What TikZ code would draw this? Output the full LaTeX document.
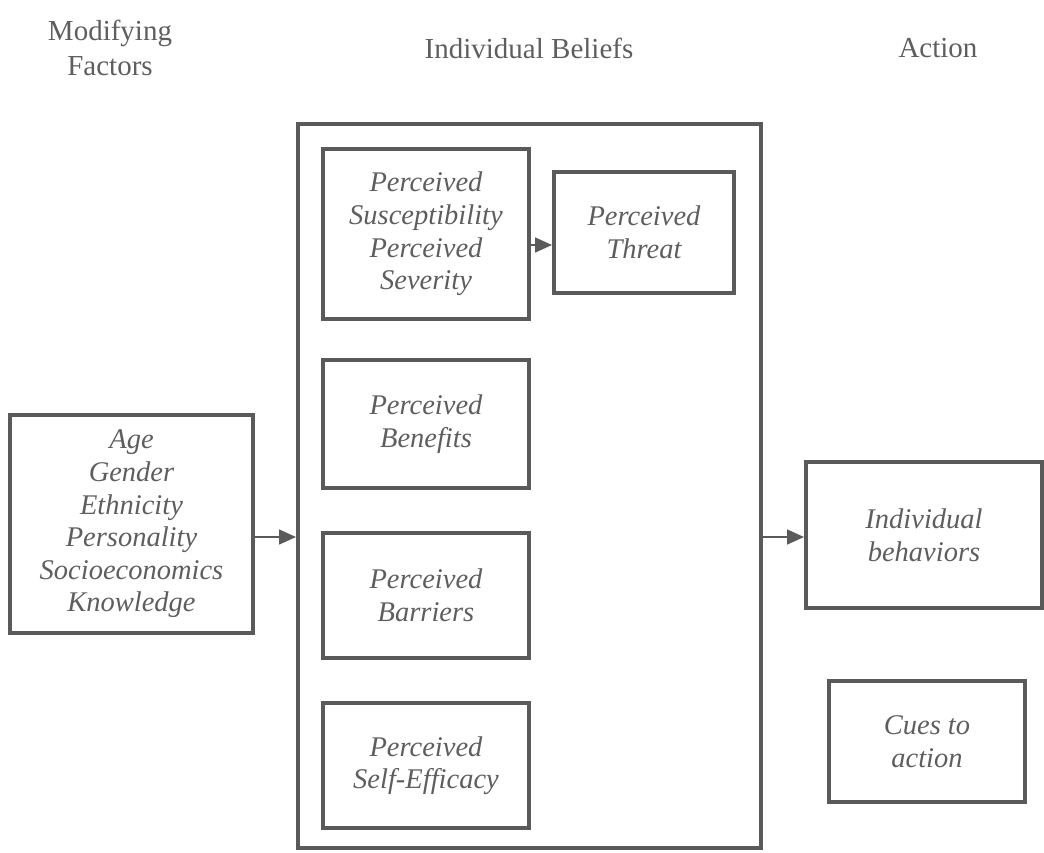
\documentclass[tikz,border=0pt]{standalone}
\usepackage{fontspec}
\setmainfont{Liberation Serif}
\usetikzlibrary{arrows.meta}
\definecolor{linegray}{HTML}{5A5A5A}
\definecolor{textgray}{HTML}{5E5E5E}
\begin{document}
\begin{tikzpicture}[x=1pt,y=-1pt,
  box/.style={draw=linegray, line width=4pt, align=center, inner sep=0pt,
    text=textgray, font=\fontsize{28.5}{32.6}\selectfont\itshape},
  heading/.style={align=center, text=textgray, font=\fontsize{29}{35}\selectfont},
  arr/.style={draw=linegray, line width=1.6pt, -{Triangle[length=17pt,width=15pt]}}]
\useasboundingbox (0,0) rectangle (1044,852);
\node[heading] (hmod) at (110,48) {Modifying\\Factors};
\node[heading] (hind) at (529,48) {Individual Beliefs};
\node[heading] (hact) at (938,48) {Action};
\node[box, minimum width=243pt, minimum height=218pt] (left) at (131.5,524)
  {Age\\Gender\\Ethnicity\\Personality\\Socioeconomics\\Knowledge};
\node[box, minimum width=463pt, minimum height=724pt] (big) at (529.5,486) {};
\node[box, minimum width=206pt, minimum height=170pt] (sus) at (426,234)
  {Perceived\\Susceptibility\\Perceived\\Severity};
\node[box, minimum width=180pt, minimum height=121pt] (threat) at (644,232.5)
  {Perceived\\Threat};
\node[box, minimum width=206pt, minimum height=128pt] (ben) at (426,424)
  {Perceived\\Benefits};
\node[box, minimum width=206pt, minimum height=125pt] (bar) at (426,595.5)
  {Perceived\\Barriers};
\node[box, minimum width=206pt, minimum height=125pt] (self) at (426,765.5)
  {Perceived\\Self-Efficacy};
\node[box, minimum width=236pt, minimum height=146pt] (behav) at (924,535)
  {Individual\\behaviors};
\node[box, minimum width=196pt, minimum height=121pt] (cues) at (927,741.5)
  {Cues to\\action};
\coordinate (ya) at (0,537);
\coordinate (yb) at (0,245);
\draw[arr] (left.east |- ya) -- (big.west |- ya);
\draw[arr] (big.east |- ya) -- (behav.west |- ya);
\draw[arr] (sus.east |- yb) -- (threat.west |- yb);
\end{tikzpicture}
\end{document}
